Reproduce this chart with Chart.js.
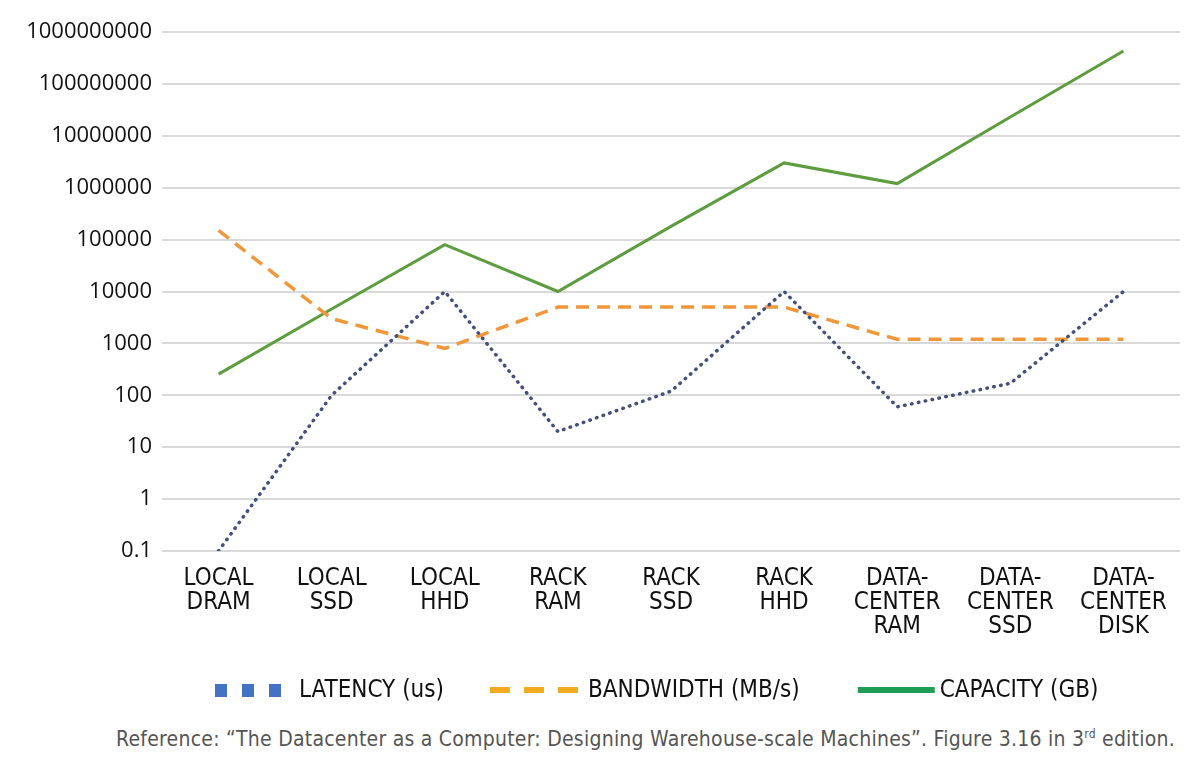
<!DOCTYPE html>
<html>
<head>
<meta charset="utf-8">
<script src="https://cdn.jsdelivr.net/npm/chart.js@4.4.1/dist/chart.umd.min.js"></script>
<style>
  body { margin: 0; background: #fff; width: 1194px; height: 760px; overflow: hidden; position: relative; }
  #chart-box { position: absolute; left: 0; top: 0; width: 1194px; height: 716px; }
  #note { position: absolute; right: 19px; top: 727px; font: 21px "DejaVu Sans Condensed", sans-serif; letter-spacing: 0.24px; color: #555; white-space: nowrap; }
  #note sup { font-size: 12px; vertical-align: 8px; line-height: 0; }
</style>
</head>
<body>
<div id="chart-box"><canvas id="memory-chart"></canvas></div>
<div id="note">Reference: “The Datacenter as a Computer: Designing Warehouse-scale Machines”. Figure 3.16 in 3<sup>rd</sup> edition.</div>
<script>
// categories on the x axis (multi-line labels)
const categories = [
  ['LOCAL', 'DRAM'], ['LOCAL', 'SSD'], ['LOCAL', 'HHD'],
  ['RACK', 'RAM'], ['RACK', 'SSD'], ['RACK', 'HHD'],
  ['DATA-', 'CENTER', 'RAM'], ['DATA-', 'CENTER', 'SSD'], ['DATA-', 'CENTER', 'DISK']
];

// series values
const latencyUs = [0.1, 100, 10000, 20, 120, 10000, 60, 170, 10000];
const bandwidthMBs = [150000, 3000, 800, 5000, 5000, 5000, 1200, 1200, 1200];
const capacityGB = [256, 4600, 80000, 10000, 180000, 3000000, 1200000, 23000000, 430000000];

// y axis ticks (log scale, one per decade)
const yTicks = [0.1, 1, 10, 100, 1000, 10000, 100000, 1000000, 10000000, 100000000, 1000000000];

const labelFont = '"DejaVu Sans Condensed", sans-serif';

/* legend drawn below the axis, Excel style markers */
const bottomLegend = {
  id: 'bottomLegend',
  afterDraw(chart) {
    const ctx = chart.ctx;
    const y = 690;
    let x = 215;
    ctx.save();
    ctx.font = '24px ' + labelFont;
    ctx.textBaseline = 'middle';
    chart.data.datasets.forEach((ds) => {
      const m = ds.legendMarker;
      ctx.fillStyle = m.color;
      if (m.kind === 'squares') {
        for (let i = 0; i < 3; i++) ctx.fillRect(x + i * 27, y - 6, 12, 13);
        x += 66;
      } else if (m.kind === 'dashes') {
        for (let i = 0; i < 3; i++) ctx.fillRect(x + i * 34, y - 3, 20, 6);
        x += 88;
      } else {
        ctx.fillRect(x, y - 3, 77, 6);
        x += 77;
      }
      x += m.gap;
      ctx.fillStyle = '#111';
      ctx.fillText(ds.label, x, y + 1);
      x += ctx.measureText(ds.label).width + m.after;
    });
    ctx.restore();
  }
};

new Chart(document.getElementById('memory-chart'), {
  type: 'line',
  data: {
    labels: categories,
    datasets: [{
      label: 'LATENCY (us)',
      data: latencyUs,
      borderColor: '#44507c',
      borderWidth: 3.5,
      borderDash: [0.5, 6.5],
      borderCapStyle: 'round',
      legendMarker: { kind: 'squares', color: '#4472c4', gap: 18, after: 46 }
    }, {
      label: 'BANDWIDTH (MB/s)',
      data: bandwidthMBs,
      borderColor: '#f0973b',
      borderWidth: 3.5,
      borderDash: [13, 8],
      legendMarker: { kind: 'dashes', color: '#f2ab1f', gap: 10, after: 58 }
    }, {
      label: 'CAPACITY (GB)',
      data: capacityGB,
      borderColor: '#5e9c40',
      borderWidth: 3,
      legendMarker: { kind: 'solid', color: '#1f9c55', gap: 5, after: 0 }
    }]
  },
  options: {
    responsive: true,
    maintainAspectRatio: false,
    animation: false,
    layout: { padding: { top: 32, right: 14, bottom: 69, left: 0 } },
    elements: { point: { radius: 0 }, line: { tension: 0 } },
    plugins: {
      legend: { display: false },
      tooltip: { enabled: false }
    },
    scales: {
      x: {
        offset: true,
        grid: { display: false },
        border: { display: false },
        ticks: {
          autoSkip: false,
          maxRotation: 0,
          padding: 8,
          color: '#111',
          font: { family: labelFont, size: 24, lineHeight: 1.0 }
        }
      },
      y: {
        type: 'logarithmic',
        min: 0.1,
        max: 1000000000,
        afterBuildTicks: (scale) => { scale.ticks = yTicks.map(v => ({ value: v })); },
        afterFit: (scale) => { scale.width = 162; },
        grid: { color: '#d9d9d9', lineWidth: 2, drawTicks: false },
        border: { display: false },
        ticks: {
          padding: 10,
          color: '#111',
          font: { family: '"Open Sans", sans-serif', size: 22 },
          callback: (v) => String(v)
        }
      }
    }
  },
  plugins: [bottomLegend]
});
</script>
</body>
</html>
